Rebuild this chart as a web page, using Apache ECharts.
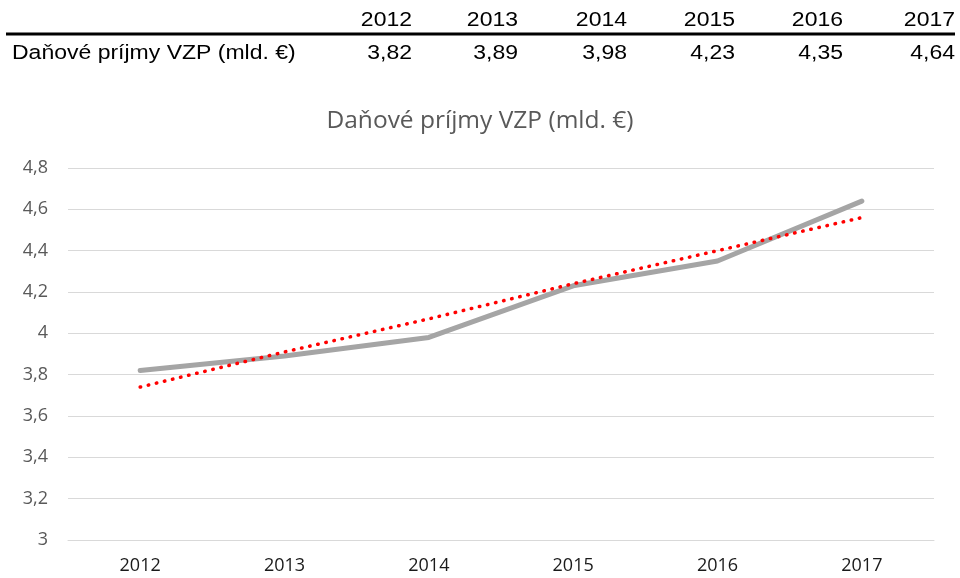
<!DOCTYPE html>
<html><head><meta charset="utf-8">
<script src="https://cdn.jsdelivr.net/npm/echarts@6/dist/echarts.min.js"></script>
<style>html,body{margin:0;padding:0;background:#fff}#c{width:960px;height:578px}</style>
</head><body><div id="c"></div>
<script>
const years = ['2012','2013','2014','2015','2016','2017'];
const values = [3.82, 3.89, 3.98, 4.23, 4.35, 4.64];
const trend = [3.74, 3.91, 4.07, 4.24, 4.40, 4.56];
const seriesName = 'Daňové príjmy VZP (mld. €)';
const yTicks = {min: 3, max: 4.8, step: 0.2};

const fmt = v => String(+v.toFixed(2)).replace('.', ',');
const colRight = [412, 518, 627, 735, 843, 955];
const tableFont = '23px "Liberation Sans", Arial, sans-serif';
const sy = 0.88;
const graphic = [];
years.forEach((y, i) => {
  graphic.push({type:'text', x: colRight[i], y: 20.5, scaleY: sy, style:{text:y, font:tableFont, fill:'#000', align:'right', verticalAlign:'middle'}});
  graphic.push({type:'text', x: colRight[i], y: 53, scaleY: sy, style:{text:fmt(values[i]), font:tableFont, fill:'#000', align:'right', verticalAlign:'middle'}});
});
graphic.push({type:'text', x: 12, y: 53, scaleY: sy, style:{text:seriesName, font:tableFont, fill:'#000', align:'left', verticalAlign:'middle'}});
graphic.push({type:'line', shape:{x1:6, y1:34, x2:955, y2:34}, style:{stroke:'#000', lineWidth:3}});

const chart = echarts.init(document.getElementById('c'));
chart.setOption({
  animation: false,
  title: {text: seriesName, left: 'center', top: 104,
    textStyle: {fontFamily: '"Open Sans", sans-serif', fontSize: 24.5, fontWeight: 'normal', color: '#595959'}},
  graphic: graphic,
  grid: {left: 68, right: 26, top: 168, bottom: 38},
  xAxis: {type: 'category', data: years, boundaryGap: true,
    axisLine: {lineStyle: {color: '#d9d9d9'}}, axisTick: {show: false},
    axisLabel: {color: '#1a1a1a', fontSize: 18, fontFamily: '"Open Sans", sans-serif', margin: 17}},
  yAxis: {type: 'value', min: yTicks.min, max: yTicks.max, interval: yTicks.step,
    axisLine: {show: false}, axisTick: {show: false},
    splitLine: {lineStyle: {color: '#d9d9d9', width: 1}},
    axisLabel: {color: '#595959', fontSize: 18, fontFamily: '"Open Sans", sans-serif', margin: 20, formatter: fmt}},
  series: [
    {name: seriesName, type: 'line', data: values, symbol: 'none',
      lineStyle: {color: '#a5a5a5', width: 5, cap: 'round', join: 'round'}, z: 2},
    {name: 'trend', type: 'line', data: trend, symbol: 'none',
      lineStyle: {color: '#ff0000', width: 3.5, type: [0.5, 7.8], cap: 'round'}, z: 3}
  ]
});
</script></body></html>
